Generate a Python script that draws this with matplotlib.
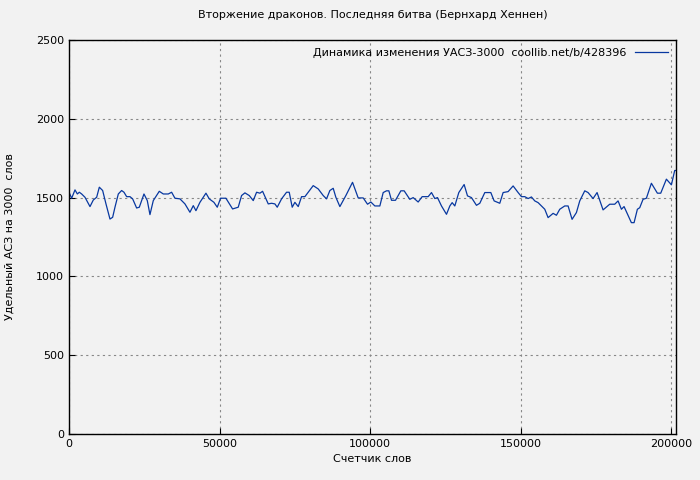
import matplotlib
matplotlib.use("Agg")
import matplotlib.pyplot as plt

words = [0, 885, 1990, 2765, 3430, 4200, 5310, 6970, 8075, 9180, 10065, 11170, 12275, 13600, 14490,
         15260, 16370, 17475, 18250, 19135, 20240, 21125, 22450, 23340, 24885, 25990, 26875, 27980,
         29970, 31300, 32960, 34065, 35170, 36830, 38490, 40150, 41255, 42140, 43465, 45460, 46560,
         48110, 49215, 50325, 52090, 54305, 56180, 57290, 58400, 59835, 61160, 62270, 63375, 64260,
         66140, 67245, 68350, 69125, 70565, 72220, 73105, 74100, 74985, 76095, 77200, 78305, 81070,
         82730, 84390, 85495, 86600, 87705, 88590, 89920, 91910, 94120, 96000, 97660,
         99100, 100200, 101530, 103190, 104300, 105400, 106180, 107060, 108390, 110160, 111260,
         113140, 114250, 115910, 117240, 119230, 120330, 121440, 122325, 123650, 125310, 126420,
         127190, 128075, 129400, 131170, 132280, 133605, 135265, 136370, 138030, 140020, 141130,
         143000, 144110, 145770, 147430, 149090, 150200, 151300, 152410, 153510, 154620, 155730,
         157940, 159040, 160700, 161810, 162910, 164570, 165680, 167000, 168440, 169550, 171210,
         172310, 173970, 175300, 177290, 179500, 181160, 182270, 183380, 184260, 185590, 186690,
         187580, 188680, 189460, 190560, 191670, 193330, 195320, 196430, 198310, 199970, 201070, 202180]
values = [1534, 1496, 1549, 1523, 1534, 1523, 1502, 1443, 1485, 1502, 1566, 1545, 1460, 1364, 1375,
          1439, 1523, 1545, 1534, 1506, 1506, 1492, 1434, 1439, 1523, 1481, 1392, 1481,
          1540, 1523, 1523, 1534, 1496, 1492, 1460, 1407, 1449, 1417, 1470, 1528, 1492,
          1470, 1439, 1496, 1496, 1428, 1439, 1513, 1530, 1513, 1481, 1534, 1528, 1540,
          1460, 1464, 1460, 1439, 1492, 1534, 1534, 1439, 1470, 1443, 1506, 1506, 1576,
          1555, 1513, 1492, 1545, 1559, 1502, 1443, 1513, 1597, 1498, 1498,
          1458, 1472, 1447, 1447, 1532, 1543, 1543, 1483, 1483, 1543, 1543,
          1489, 1500, 1472, 1506, 1506, 1532, 1494, 1500, 1447, 1394, 1447,
          1468, 1447, 1532, 1583, 1511, 1500, 1451, 1464, 1532, 1532, 1479,
          1464, 1532, 1538, 1574, 1532, 1506, 1506, 1494, 1504, 1479, 1468,
          1426, 1373, 1400, 1388, 1426, 1447, 1447, 1362, 1405, 1479, 1543,
          1532, 1494, 1532, 1422, 1458, 1458, 1479, 1426, 1443, 1388, 1341,
          1341, 1426, 1436, 1489, 1496, 1591, 1528, 1528, 1617, 1581, 1672, 1672]

title = "Вторжение драконов. Последняя битва (Бернхард Хеннен)"
legend_label = "Динамика изменения УАСЗ-3000  coollib.net/b/428396"

plt.rcParams['font.family'] = ['DejaVu Sans']
fig = plt.figure(figsize=(7, 4.8), dpi=100, facecolor='#f2f2f2')
ax = fig.add_axes([69/700, 46/480, 607/700, 394/480], facecolor='#f2f2f2')
ax.plot(words, values, color='#0838a0', lw=0.9, label=legend_label)
ax.set_xlim(0, 201500)
ax.set_ylim(0, 2500)
ax.set_xticks([0, 50000, 100000, 150000, 200000])
ax.set_yticks([0, 500, 1000, 1500, 2000, 2500])
ax.grid(True, color='#888888', linestyle=(0, (2, 3)), lw=0.8)
ax.tick_params(direction='in', labelsize=8, length=4)
for s in ax.spines.values():
    s.set_linewidth(1.0)
ax.set_title(title, fontsize=8, pad=16)
ax.set_xlabel("Счетчик слов", fontsize=8)
ax.set_ylabel("Удельный АСЗ на 3000  слов", fontsize=8)
ax.yaxis.set_label_coords(-0.09, 0.5)
leg = ax.legend(loc='upper right', frameon=False, fontsize=8, markerfirst=False,
                handlelength=3, borderaxespad=0.3)
fig.savefig("out.png", dpi=100, facecolor=fig.get_facecolor())
